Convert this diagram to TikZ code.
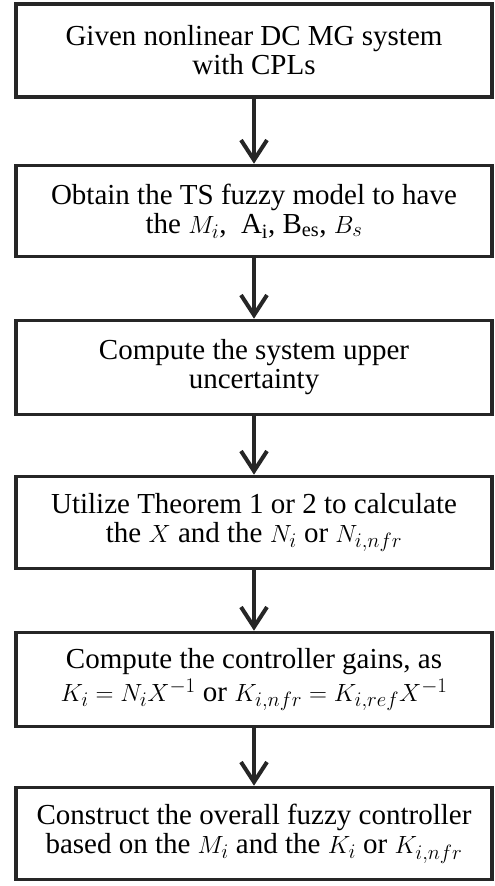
\documentclass[tikz,border=0pt]{standalone}
\usepackage{fontspec}
\setmainfont{Liberation Serif}
\usetikzlibrary{arrows.meta}
\begin{document}
\begin{tikzpicture}[x=1pt,y=-1pt,
  box/.style={draw=black!85, line width=3.6pt, minimum width=476pt, align=center,
    font=\fontsize{29}{29}\selectfont, inner sep=0pt},
  flowarrow/.style={draw=black!85, line width=4pt,
    -{Straight Barb[length=20pt,width=26pt,line width=4pt]}}]
\useasboundingbox (0,0) rectangle (495,886);
\node[box, minimum height=93pt] (b1) at (254,50.5) {Given nonlinear DC MG system\\with CPLs};
\node[box, minimum height=91pt] (b2) at (254,211) {Obtain the TS fuzzy model to have\\the $M_i$,\ \ A$_\mathrm{i}$, B$_\mathrm{es}$, $B_s$};
\node[box, minimum height=94pt] (b3) at (254,367.5) {Compute the system upper\\uncertainty};
\node[box, minimum height=92pt] (b4) at (254,522.5) {Utilize Theorem 1 or 2 to calculate\\the $X$ and the $N_i$ or $N_{i,nfr}$};
\node[box, minimum height=94pt] (b5) at (254,679.5) {Compute the controller gains, as\\[4pt]$K_i=N_iX^{-1}$ or $K_{i,nfr}=K_{i,ref}X^{-1}$};
\node[box, minimum height=92pt] (b6) at (254,833.5) {Construct the overall fuzzy controller\\based on the $M_i$ and the $K_i$ or $K_{i,nfr}$};
\draw[flowarrow] (b1.south) -- (b2.north);
\draw[flowarrow] (b2.south) -- (b3.north);
\draw[flowarrow] (b3.south) -- (b4.north);
\draw[flowarrow] (b4.south) -- (b5.north);
\draw[flowarrow] (b5.south) -- (b6.north);
\end{tikzpicture}
\end{document}
